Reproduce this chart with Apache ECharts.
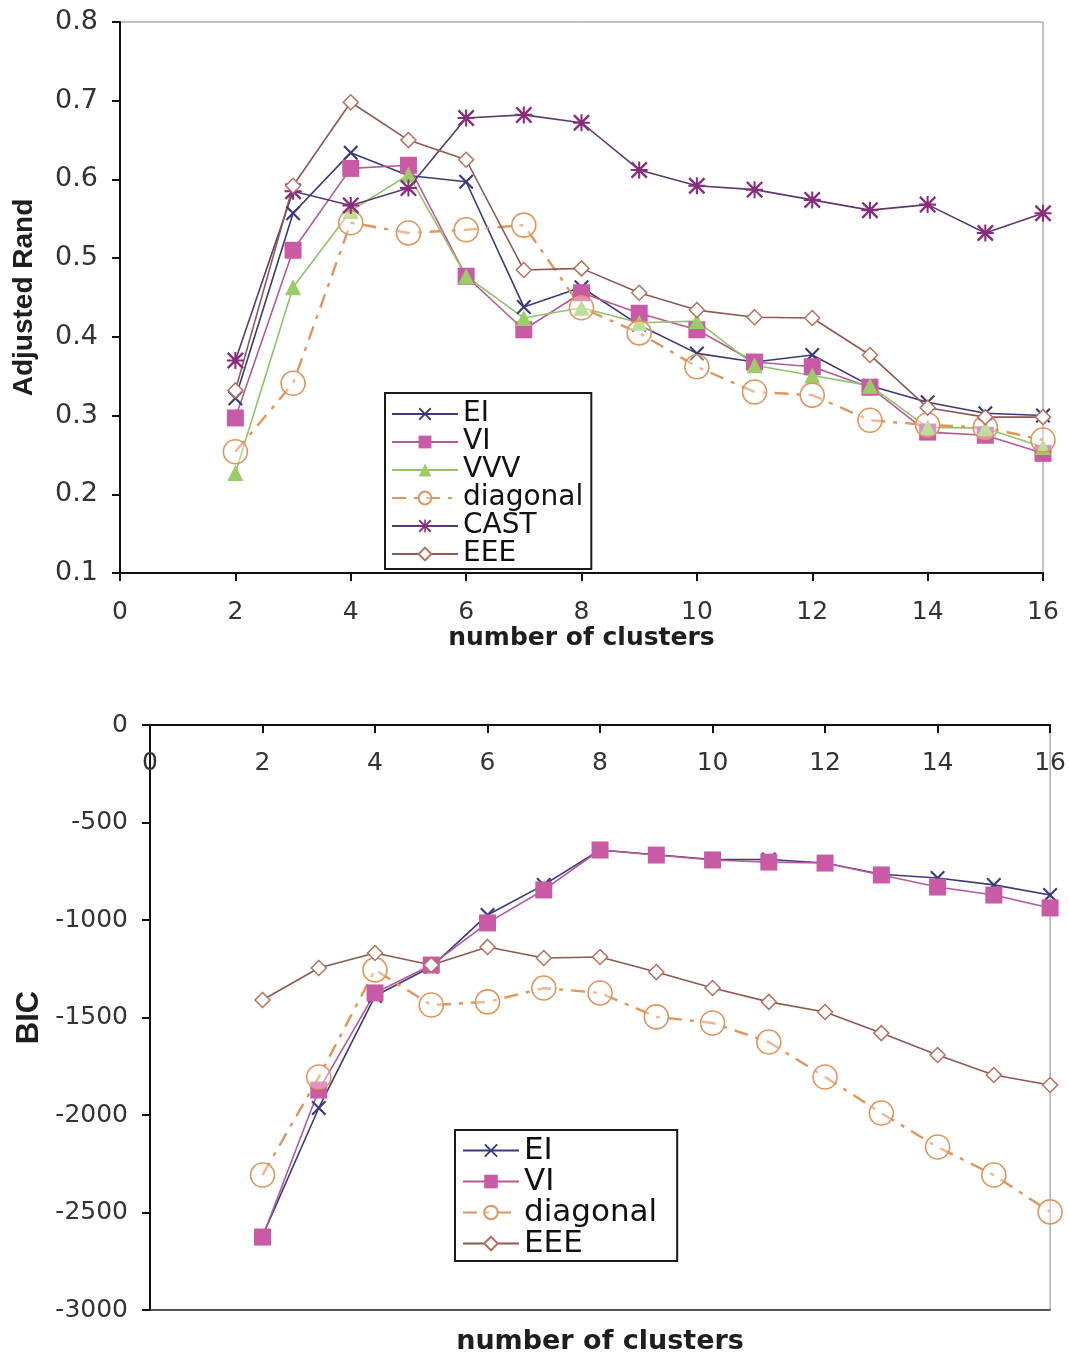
<!DOCTYPE html>
<html>
<head>
<meta charset="utf-8">
<script src="https://cdn.jsdelivr.net/npm/echarts@6/dist/echarts.min.js"></script>
<style>
  html, body { margin: 0; padding: 0; background: #fff; }
  #chart { width: 1069px; height: 1356px; }
</style>
</head>
<body>
<div id="chart"></div>
<script>
// Number of clusters on the horizontal axis
const clusters = [2, 3, 4, 5, 6, 7, 8, 9, 10, 11, 12, 13, 14, 15, 16];

// Adjusted Rand index per model
const randEI       = [0.322, 0.557, 0.634, 0.605, 0.597, 0.438, 0.463, 0.415, 0.379, 0.368, 0.377, 0.338, 0.317, 0.303, 0.300];
const randVI       = [0.297, 0.510, 0.614, 0.618, 0.477, 0.409, 0.456, 0.430, 0.409, 0.368, 0.362, 0.336, 0.279, 0.275, 0.252];
const randVVV      = [0.227, 0.463, 0.560, 0.606, 0.477, 0.424, 0.437, 0.418, 0.420, 0.364, 0.351, 0.338, 0.285, 0.284, 0.260];
const randDiagonal = [0.254, 0.341, 0.545, 0.532, 0.536, 0.542, 0.437, 0.405, 0.362, 0.330, 0.326, 0.294, 0.288, 0.285, 0.269];
const randCAST     = [0.370, 0.585, 0.567, 0.589, 0.678, 0.682, 0.672, 0.612, 0.592, 0.587, 0.574, 0.561, 0.568, 0.532, 0.557];
const randEEE      = [0.332, 0.592, 0.698, 0.650, 0.625, 0.485, 0.487, 0.456, 0.434, 0.425, 0.424, 0.377, 0.310, 0.298, 0.298];

// BIC per model
const bicEI       = [-2620, -1964, -1390, -1240, -974, -820, -641, -665, -690, -690, -708, -765, -785, -820, -872];
const bicVI       = [-2626, -1872, -1374, -1231, -1015, -846, -641, -667, -692, -703, -708, -769, -831, -872, -938];
const bicDiagonal = [-2308, -1805, -1256, -1436, -1420, -1349, -1374, -1497, -1528, -1626, -1805, -1990, -2164, -2308, -2497];
const bicEEE      = [-1410, -1246, -1169, -1231, -1138, -1195, -1190, -1267, -1349, -1420, -1472, -1580, -1692, -1795, -1846];

// Legend entries of each panel
const randModels = ['EI', 'VI', 'VVV', 'diagonal', 'CAST', 'EEE'];
const bicModels  = ['EI', 'VI', 'diagonal', 'EEE'];

const SANS = 'Liberation Sans, Arial, sans-serif';
const WIDE = 'DejaVu Sans, Verdana, sans-serif';

// Marker shapes
const CROSS = 'path://M0,10L10,0L50,40L90,0L100,10L60,50L100,90L90,100L50,60L10,100L0,90L40,50Z';
const ASTERISK = 'path://M0,10L10,0L50,40L90,0L100,10L60,50L100,90L90,100L50,60L10,100L0,90L40,50Z' +
                 'M44,0L56,0L56,100L44,100Z M0,44L100,44L100,56L0,56Z';

const styles = {
  EI: {
    symbol: CROSS, symbolSize: 15,
    itemStyle: { color: '#3a3a7a' },
    lineStyle: { color: '#3a3a7a', width: 1.6, type: 'solid' }
  },
  VI: {
    symbol: 'rect', symbolSize: 17,
    itemStyle: { color: '#c95aa5' },
    lineStyle: { color: '#b45a9a', width: 1.6, type: 'solid' }
  },
  VVV: {
    symbol: 'triangle', symbolSize: 16,
    itemStyle: { color: '#9ccc66' },
    lineStyle: { color: '#8fc46a', width: 1.6, type: 'solid' }
  },
  diagonal: {
    symbol: 'circle', symbolSize: 24,
    itemStyle: { color: 'rgba(255,255,255,0.35)', borderColor: '#e0955c', borderWidth: 1.6 },
    lineStyle: { color: '#e0955c', width: 2.4, type: [14, 8, 4, 8] }
  },
  CAST: {
    symbol: ASTERISK, symbolSize: 17,
    itemStyle: { color: '#8a2c7c' },
    lineStyle: { color: '#5a3a70', width: 1.6, type: 'solid' }
  },
  EEE: {
    symbol: 'diamond', symbolSize: 15,
    itemStyle: { color: '#ffffff', borderColor: '#b8705c', borderWidth: 1.5 },
    lineStyle: { color: '#8c5a50', width: 1.6, type: 'solid' }
  }
};

function makeSeries(name, values, gridIdx, xIdx) {
  const s = styles[name];
  return {
    name: name,
    type: 'line',
    xAxisIndex: xIdx,
    yAxisIndex: gridIdx,
    data: clusters.map((c, i) => [c, values[i]]),
    symbol: s.symbol,
    symbolSize: s.symbolSize,
    showAllSymbol: true,
    itemStyle: s.itemStyle,
    lineStyle: s.lineStyle,
    emphasis: { disabled: true },
    clip: false
  };
}

const tickLabel = { fontFamily: WIDE, fontSize: 25, color: '#333' };
const axisNameStyle = { fontFamily: WIDE, fontSize: 25, fontWeight: 'bold', color: '#1e1e1e' };
const blackLine = { lineStyle: { color: '#111', width: 2 } };

const legendBase = {
  orient: 'vertical',
  backgroundColor: '#fff',
  borderColor: '#1a1a1a',
  borderWidth: 2,
  itemGap: 0,
  selectedMode: false
};

const option = {
  animation: false,
  backgroundColor: '#fff',
  grid: [
    { left: 120, right: 26, top: 22, height: 551, show: true, borderColor: '#888', borderWidth: 1 },
    { left: 150, right: 14, top: 725, height: 587, show: true, borderColor: '#888', borderWidth: 1 }
  ],
  legend: [
    Object.assign({
      left: 385, top: 393, data: randModels,
      itemWidth: 66, itemHeight: 16,
      padding: [7, 8, 1, 6],
      textStyle: { fontFamily: WIDE, fontSize: 28, lineHeight: 26, color: '#111' }
    }, legendBase),
    Object.assign({
      left: 455, top: 1130, data: bicModels,
      itemWidth: 56, itemHeight: 17,
      padding: [5, 20, 2, 7],
      textStyle: { fontFamily: WIDE, fontSize: 31, lineHeight: 29, color: '#111' }
    }, legendBase)
  ],
  xAxis: [
    {
      gridIndex: 0, type: 'value', min: 0, max: 16, interval: 2,
      axisLine: Object.assign({ onZero: false }, blackLine),
      axisTick: { length: 8, lineStyle: { color: '#111', width: 2 } },
      axisLabel: Object.assign({ margin: 27 }, tickLabel),
      splitLine: { show: false },
      name: 'number of clusters', nameLocation: 'middle', nameGap: 50,
      nameTextStyle: axisNameStyle
    },
    {
      gridIndex: 1, type: 'value', position: 'top', min: 0, max: 16, interval: 2,
      axisLine: Object.assign({ onZero: false }, blackLine),
      axisTick: { inside: true, length: 8, lineStyle: { color: '#111', width: 2 } },
      axisLabel: Object.assign({ inside: true, margin: 26 }, tickLabel),
      splitLine: { show: false }
    },
    {
      gridIndex: 1, type: 'value', position: 'bottom', min: 0, max: 16, interval: 2,
      axisLine: { onZero: false, lineStyle: { color: '#333', width: 1.5 } },
      axisTick: { show: false },
      axisLabel: { show: false },
      splitLine: { show: false },
      name: 'number of clusters', nameLocation: 'middle', nameGap: 18,
      nameTextStyle: Object.assign({}, axisNameStyle, { fontSize: 27 })
    }
  ],
  yAxis: [
    {
      gridIndex: 0, type: 'value', min: 0.1, max: 0.8, interval: 0.1,
      axisLine: Object.assign({ onZero: false }, blackLine),
      axisTick: { length: 8, lineStyle: { color: '#111', width: 2 } },
      axisLabel: Object.assign({ margin: 22, formatter: v => v.toFixed(1) }, tickLabel, { fontSize: 27 }),
      splitLine: { show: false },
      name: 'Adjusted Rand', nameLocation: 'middle', nameGap: 82,
      nameTextStyle: { fontFamily: SANS, fontSize: 28, fontWeight: 'bold', color: '#1e1e1e' }
    },
    {
      gridIndex: 1, type: 'value', min: -3000, max: 0, interval: 500,
      axisLine: Object.assign({ onZero: false }, blackLine),
      axisTick: { length: 8, lineStyle: { color: '#111', width: 2 } },
      axisLabel: Object.assign({ margin: 22, formatter: v => String(v) }, tickLabel),
      splitLine: { show: false },
      name: 'BIC', nameLocation: 'middle', nameGap: 104,
      nameTextStyle: { fontFamily: SANS, fontSize: 31, fontWeight: 'bold', color: '#1e1e1e' }
    }
  ],
  series: [
    makeSeries('EI', randEI, 0, 0),
    makeSeries('VI', randVI, 0, 0),
    makeSeries('VVV', randVVV, 0, 0),
    makeSeries('diagonal', randDiagonal, 0, 0),
    makeSeries('CAST', randCAST, 0, 0),
    makeSeries('EEE', randEEE, 0, 0),
    makeSeries('EI', bicEI, 1, 1),
    makeSeries('VI', bicVI, 1, 1),
    makeSeries('diagonal', bicDiagonal, 1, 1),
    makeSeries('EEE', bicEEE, 1, 1)
  ]
};

const chart = echarts.init(document.getElementById('chart'), null, { renderer: 'canvas' });
chart.setOption(option);
</script>
</body>
</html>
